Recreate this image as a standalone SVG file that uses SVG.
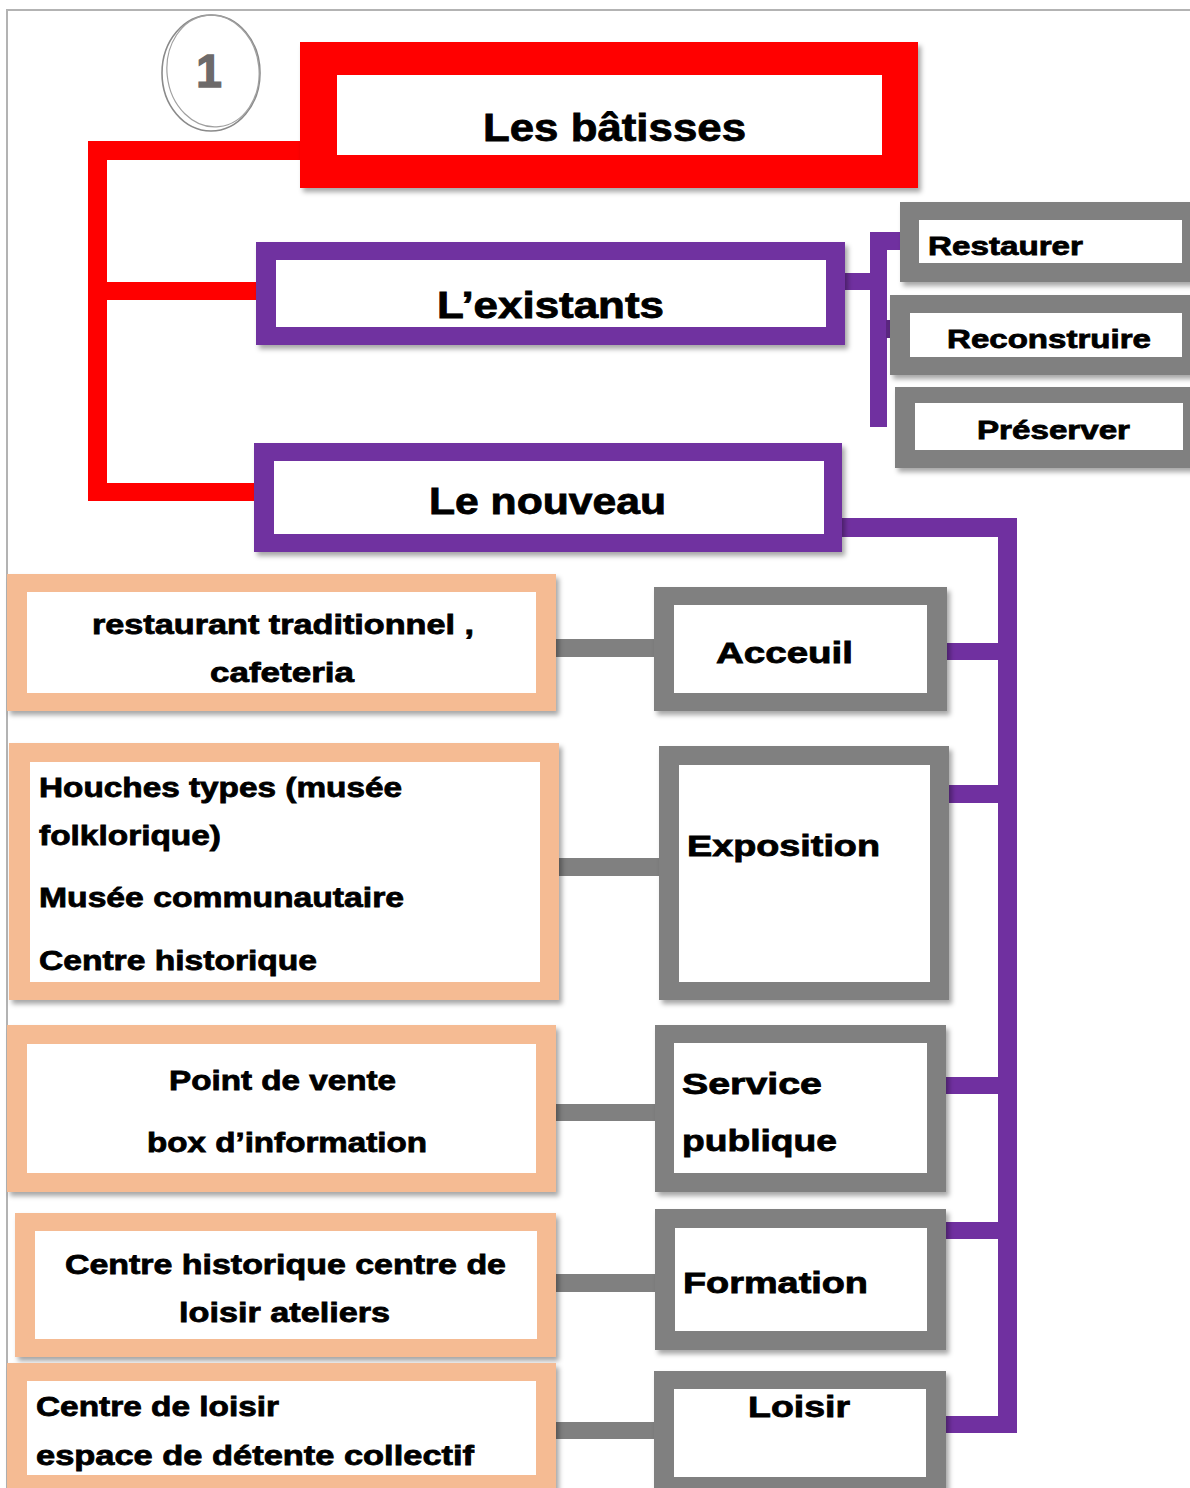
<svg xmlns="http://www.w3.org/2000/svg" width="1190" height="1488" viewBox="0 0 1190 1488">
<defs>
<filter id="sh" x="-5%" y="-5%" width="115%" height="120%">
<feDropShadow dx="3" dy="4" stdDeviation="2.5" flood-color="#000" flood-opacity="0.35"/>
</filter>
<style>
text{font-family:"Liberation Sans",Arial,sans-serif;font-weight:bold;fill:#000;stroke:#000;stroke-width:0.8}
.red{fill:#ff0000}
.pur{fill:#7030a0}
.gry{fill:#808080}
.pch{fill:#f5bb93}
.in{fill:#ffffff}
.big{font-size:39px}
.mid{font-size:36px}
.sm{font-size:26px}
.lab{font-size:30px}
.pt{font-size:28px}
.c{text-anchor:middle}
</style>
</defs>
<rect x="0" y="0" width="1190" height="1488" fill="#fff"/>
<path d="M7,1488 V10 H1190" fill="none" stroke="#b3b3b3" stroke-width="2"/>

<g id="badge">
<ellipse cx="211" cy="73" rx="49" ry="58" fill="none" stroke="#8a8a8a" stroke-width="1.6"/>
<ellipse cx="213" cy="71" rx="46" ry="56" fill="none" stroke="#a0a0a0" stroke-width="1.2" transform="rotate(-6 213 71)"/>
<text x="209" y="87" class="c" style="font-size:46px;fill:#6d6a6a;stroke:#6d6a6a;stroke-width:1.5">1</text>
</g>

<g id="connectors">
<rect class="red" x="88" y="141" width="19" height="360"/>
<rect class="red" x="88" y="141" width="214" height="19"/>
<rect class="red" x="107" y="282" width="151" height="18"/>
<rect class="red" x="107" y="483" width="149" height="18"/>
<rect class="pur" x="843" y="273" width="44" height="17"/>
<rect class="pur" x="870" y="232" width="17" height="195"/>
<rect class="pur" x="870" y="232" width="32" height="18"/>
<rect x="886" y="320" width="6" height="18" fill="#5a2680"/>
<rect class="pur" x="840" y="518" width="177" height="19"/>
<rect class="pur" x="998" y="518" width="19" height="915"/>
<rect class="pur" x="944" y="1416" width="73" height="17"/>
<rect class="pur" x="944" y="643" width="56" height="17"/>
<rect class="pur" x="947" y="785" width="53" height="18"/>
<rect class="pur" x="944" y="1077" width="56" height="17"/>
<rect class="pur" x="944" y="1222" width="56" height="17"/>
<rect class="gry" x="554" y="639" width="102" height="18"/>
<rect class="gry" x="557" y="858" width="104" height="18"/>
<rect class="gry" x="554" y="1104" width="103" height="17"/>
<rect class="gry" x="554" y="1274" width="103" height="18"/>
<rect class="gry" x="554" y="1422" width="102" height="17"/>
</g>

<g id="n-batisses">
<rect class="red" x="300" y="42" width="618" height="146" filter="url(#sh)"/>
<rect class="in" x="337" y="75" width="545" height="80"/>
<text class="big" x="483" y="141" textLength="263" lengthAdjust="spacingAndGlyphs">Les bâtisses</text>
</g>
<g id="n-existants">
<rect class="pur" x="256" y="242" width="589" height="103" filter="url(#sh)"/>
<rect class="in" x="276" y="260" width="550" height="67"/>
<text class="mid" x="437" y="318" textLength="227" lengthAdjust="spacingAndGlyphs">L’existants</text>
</g>
<g id="n-nouveau">
<rect class="pur" x="254" y="443" width="588" height="109" filter="url(#sh)"/>
<rect class="in" x="274" y="461" width="550" height="73"/>
<text class="mid" x="429" y="514" textLength="237" lengthAdjust="spacingAndGlyphs">Le nouveau</text>
</g>
<g id="n-restaurer">
<rect class="gry" x="900" y="202" width="300" height="80" filter="url(#sh)"/>
<rect class="in" x="919" y="220" width="263" height="43"/>
<text class="sm" x="928" y="255" textLength="155" lengthAdjust="spacingAndGlyphs">Restaurer</text>
</g>
<g id="n-reconstruire">
<rect class="gry" x="890" y="295" width="310" height="80" filter="url(#sh)"/>
<rect class="in" x="910" y="313" width="272" height="44"/>
<text class="sm" x="947" y="348" textLength="204" lengthAdjust="spacingAndGlyphs">Reconstruire</text>
</g>
<g id="n-preserver">
<rect class="gry" x="895" y="387" width="305" height="81" filter="url(#sh)"/>
<rect class="in" x="915" y="403" width="268" height="47"/>
<text class="sm" x="977" y="439" textLength="153" lengthAdjust="spacingAndGlyphs">Préserver</text>
</g>

<g id="n-restaurant">
<rect class="pch" x="7" y="574" width="549" height="137" filter="url(#sh)"/>
<rect class="in" x="27" y="592" width="509" height="101"/>
<text class="pt" x="92" y="634" textLength="382" lengthAdjust="spacingAndGlyphs">restaurant traditionnel ,</text>
<text class="pt" x="210" y="682" textLength="144" lengthAdjust="spacingAndGlyphs">cafeteria</text>
</g>
<g id="n-acceuil">
<rect class="gry" x="654" y="587" width="293" height="124" filter="url(#sh)"/>
<rect class="in" x="674" y="605" width="253" height="88"/>
<text class="lab" x="716" y="663" textLength="137" lengthAdjust="spacingAndGlyphs">Acceuil</text>
</g>

<g id="n-musees">
<rect class="pch" x="9" y="743" width="550" height="257" filter="url(#sh)"/>
<rect class="in" x="30" y="762" width="510" height="220"/>
<text class="pt" x="39" y="797" textLength="363" lengthAdjust="spacingAndGlyphs">Houches types (musée</text>
<text class="pt" x="39" y="845" textLength="182" lengthAdjust="spacingAndGlyphs">folklorique)</text>
<text class="pt" x="39" y="907" textLength="365" lengthAdjust="spacingAndGlyphs">Musée communautaire</text>
<text class="pt" x="39" y="970" textLength="278" lengthAdjust="spacingAndGlyphs">Centre historique</text>
</g>
<g id="n-exposition">
<rect class="gry" x="659" y="746" width="290" height="254" filter="url(#sh)"/>
<rect class="in" x="679" y="765" width="251" height="217"/>
<text class="lab" x="687" y="856" textLength="193" lengthAdjust="spacingAndGlyphs">Exposition</text>
</g>

<g id="n-vente">
<rect class="pch" x="7" y="1025" width="549" height="167" filter="url(#sh)"/>
<rect class="in" x="27" y="1044" width="509" height="129"/>
<text class="pt" x="169" y="1090" textLength="227" lengthAdjust="spacingAndGlyphs">Point de vente</text>
<text class="pt" x="147" y="1152" textLength="280" lengthAdjust="spacingAndGlyphs">box d’information</text>
</g>
<g id="n-service">
<rect class="gry" x="655" y="1025" width="291" height="167" filter="url(#sh)"/>
<rect class="in" x="674" y="1043" width="253" height="130"/>
<text class="lab" x="682" y="1094" textLength="140" lengthAdjust="spacingAndGlyphs">Service</text>
<text class="lab" x="682" y="1151" textLength="155" lengthAdjust="spacingAndGlyphs">publique</text>
</g>

<g id="n-ateliers">
<rect class="pch" x="15" y="1213" width="541" height="144" filter="url(#sh)"/>
<rect class="in" x="35" y="1231" width="502" height="108"/>
<text class="pt" x="65" y="1274" textLength="441" lengthAdjust="spacingAndGlyphs">Centre historique centre de</text>
<text class="pt" x="179" y="1322" textLength="211" lengthAdjust="spacingAndGlyphs">loisir ateliers</text>
</g>
<g id="n-formation">
<rect class="gry" x="655" y="1209" width="291" height="141" filter="url(#sh)"/>
<rect class="in" x="675" y="1228" width="252" height="103"/>
<text class="lab" x="683" y="1293" textLength="185" lengthAdjust="spacingAndGlyphs">Formation</text>
</g>

<g id="n-detente">
<rect class="pch" x="7" y="1363" width="549" height="130" filter="url(#sh)"/>
<rect class="in" x="27" y="1381" width="509" height="94"/>
<text class="pt" x="36" y="1416" textLength="243" lengthAdjust="spacingAndGlyphs">Centre de loisir</text>
<text class="pt" x="36" y="1465" textLength="438" lengthAdjust="spacingAndGlyphs">espace de détente collectif</text>
</g>
<g id="n-loisir">
<rect class="gry" x="654" y="1371" width="292" height="130" filter="url(#sh)"/>
<rect class="in" x="674" y="1389" width="252" height="88"/>
<text class="lab" x="748" y="1417" textLength="102" lengthAdjust="spacingAndGlyphs">Loisir</text>
</g>
</svg>
